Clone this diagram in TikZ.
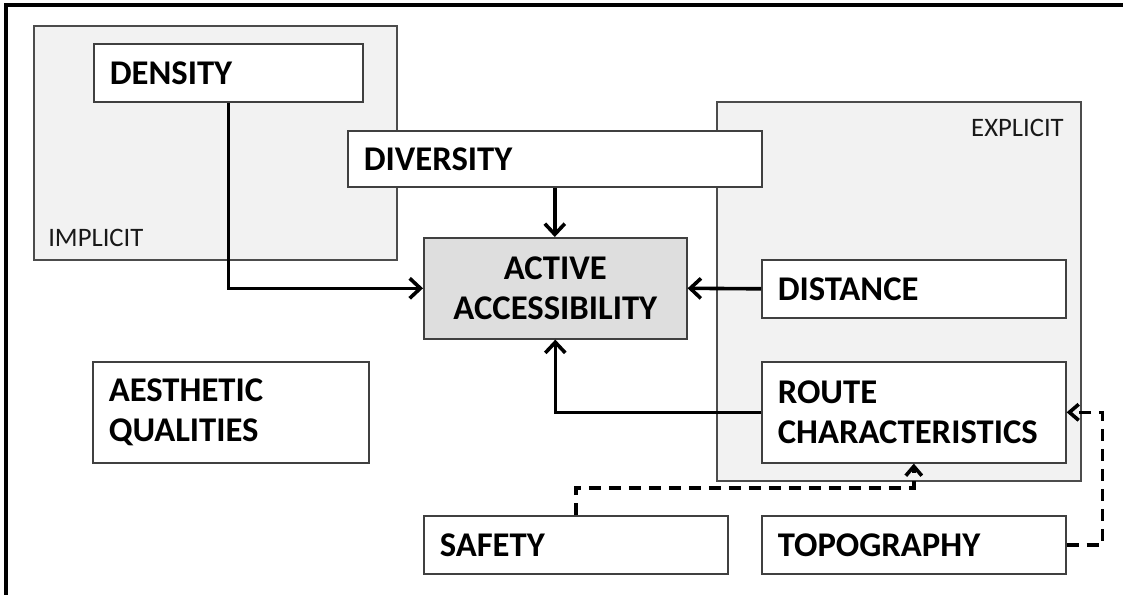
\documentclass[tikz,border=0pt]{standalone}
\usepackage{fontspec}
\setmainfont{Carlito}
\usetikzlibrary{arrows.meta,shadows}
\newdimen\pxu \pxu=0.75pt

\tikzset{
  grp/.style 2 args={draw=black!70,fill=black!5,line width=1.2pt,inner sep=0pt,
    minimum width=#1\pxu,minimum height=#2\pxu,anchor=north west,
    drop shadow={shadow xshift=1pt,shadow yshift=-1.2pt,opacity=.2}},
  grplbl/.style={font=\fontsize{20}{24}\selectfont,text=black!90,inner sep=0pt},
  blk/.style 2 args={draw=black!75,fill=white,line width=1.2pt,
    text width=#1\pxu,minimum height=#2\pxu,inner xsep=16\pxu,inner ysep=0pt,
    align=left,anchor=north west,font=\bfseries\fontsize{26}{30}\selectfont,
    drop shadow={shadow xshift=1pt,shadow yshift=-1.2pt,opacity=.2}},
  arr/.style={line width=2.7pt,-{Straight Barb[length=8pt,width=15pt]}},
  dsh/.style={line width=2.7pt,dash pattern=on 9pt off 6pt,
    -{Straight Barb[length=7pt,width=12pt]}}
}

\begin{document}
\begin{tikzpicture}[x=0.75pt,y=-0.75pt]
\useasboundingbox (0,0) rectangle (1123,595);
\draw[line width=2.6pt] (1123,5) -- (6,5) -- (6,595);

\node[grp={363}{234}] (impl) at (33,25) {};
\node[grp={364}{379}] (expl) at (716,101) {};
\node[grplbl,anchor=base west] (impllbl) at (48,247) {IMPLICIT};
\node[grplbl,anchor=base east] (expllbl) at (1064,137) {EXPLICIT};

\node[blk={237}{58}] (dens) at (93,43) {DENSITY};
\node[blk={382}{56}] (divr) at (347,130) {DIVERSITY};
\node[blk={231}{101},align=center,fill=black!13] (act) at (423,237) {ACTIVE\\ACCESSIBILITY};
\node[blk={272}{58}] (dist) at (761,259) {DISTANCE};
\node[blk={272}{101}] (route) at (761,361) {ROUTE\\CHARACTERISTICS};
\node[blk={244}{101}] (aest) at (92,361) {AESTHETIC\\QUALITIES};
\node[blk={272}{58}] (saf) at (423,515) {SAFETY};
\node[blk={272}{58}] (topo) at (761,515) {TOPOGRAPHY};

\draw[arr] (dens.south) |- (act.west);
\draw[arr] (divr.south) -- (divr.south |- act.north);
\draw[arr] (dist.west) -- (act.east);
\draw[arr] (route.west) -| (act.south);
\draw[dsh] (saf.north) -- ++(0,-27) -| (route.south);
\draw[dsh] (topo.east) -- ++(36,0) |- (route.east);
\end{tikzpicture}
\end{document}
